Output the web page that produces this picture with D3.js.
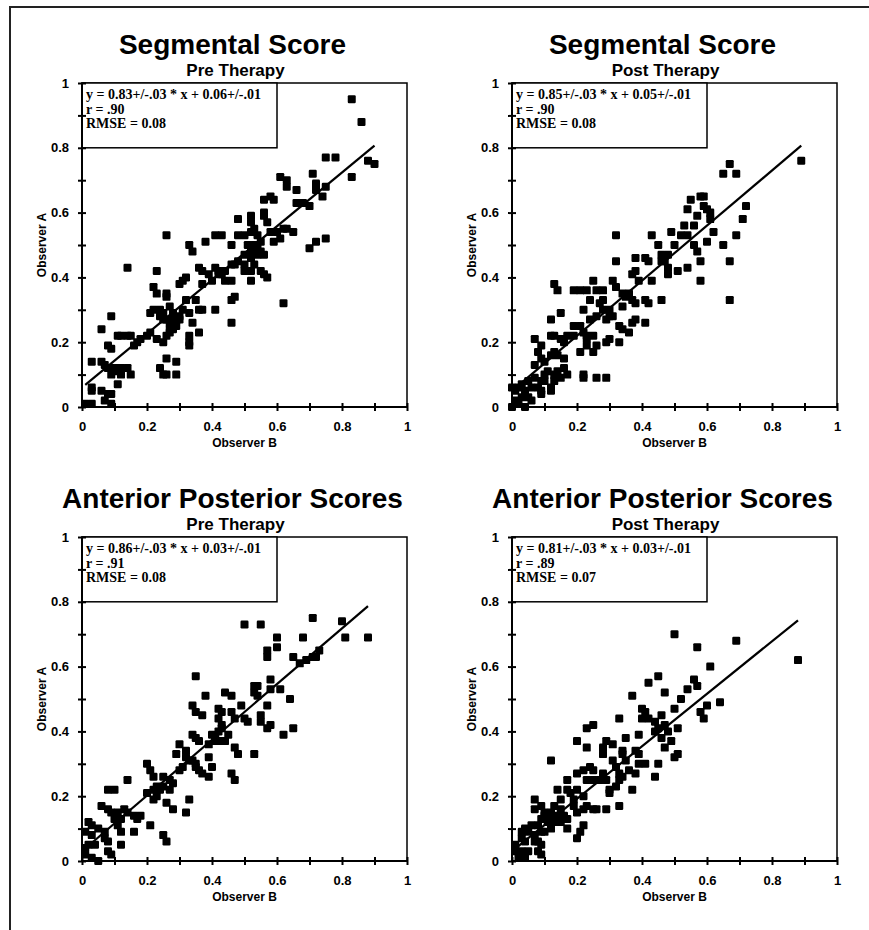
<!DOCTYPE html>
<html>
<head>
<meta charset="utf-8">
<script src="https://cdn.jsdelivr.net/npm/d3@7"></script>
<style>
body { margin: 0; background: #fff; }
svg text { font-family: "Liberation Sans", Arial, sans-serif; font-weight: bold; }
svg text.stat { font-family: "Liberation Serif", "Times New Roman", serif; }
</style>
</head>
<body>
<div id="chart"></div>
<script>
// panel titles and fit statistics
var titles = ["Segmental Score", "Segmental Score", "Anterior Posterior Scores", "Anterior Posterior Scores"];
var subtitles = ["Pre Therapy", "Post Therapy", "Pre Therapy", "Post Therapy"];
var slopes = [0.83, 0.85, 0.86, 0.81];
var intercepts = [0.06, 0.05, 0.03, 0.03];
var statLines = [
    ["y = 0.83+/-.03 * x + 0.06+/-.01", "r = .90", "RMSE = 0.08"],
    ["y = 0.85+/-.03 * x + 0.05+/-.01", "r = .90", "RMSE = 0.08"],
    ["y = 0.86+/-.03 * x + 0.03+/-.01", "r = .91", "RMSE = 0.08"],
    ["y = 0.81+/-.03 * x + 0.03+/-.01", "r = .89", "RMSE = 0.07"]
];
var tickValues = [0, 0.1, 0.2, 0.3, 0.4, 0.5, 0.6, 0.7, 0.8, 0.9, 1];
var tickLabels = {0: "0", 0.2: "0.2", 0.4: "0.4", 0.6: "0.6", 0.8: "0.8", 1: "1"};

// [observer B, observer A] pairs
var segmentalPre = [
    [0.83,0.95],[0.86,0.88],[0.75,0.77],[0.78,0.77],[0.88,0.76],[0.90,0.75],[0.83,0.71],
    [0.61,0.71],[0.63,0.70],[0.63,0.68],[0.66,0.67],[0.71,0.72],[0.72,0.69],[0.75,0.68],[0.74,0.65],[0.72,0.67],
    [0.66,0.63],[0.68,0.63],[0.70,0.62],[0.56,0.64],[0.58,0.65],[0.59,0.64],
    [0.56,0.60],[0.56,0.59],[0.57,0.57],[0.52,0.59],[0.52,0.57],[0.53,0.55],[0.48,0.58],
    [0.41,0.53],[0.43,0.53],[0.48,0.53],[0.50,0.53],[0.52,0.54],[0.54,0.53],
    [0.58,0.54],[0.60,0.54],[0.62,0.55],[0.63,0.55],[0.65,0.54],[0.59,0.51],[0.61,0.52],
    [0.26,0.53],[0.38,0.51],[0.33,0.50],[0.34,0.48],[0.46,0.50],
    [0.51,0.50],[0.53,0.50],[0.54,0.49],[0.55,0.48],[0.52,0.48],[0.54,0.47],[0.50,0.47],[0.52,0.46],[0.55,0.51],[0.56,0.47],
    [0.50,0.44],[0.50,0.42],[0.53,0.44],[0.52,0.42],[0.55,0.42],[0.56,0.41],[0.57,0.40],[0.52,0.39],
    [0.70,0.49],[0.72,0.51],[0.75,0.52],
    [0.41,0.43],[0.42,0.42],[0.43,0.41],[0.44,0.42],[0.46,0.44],[0.47,0.44],[0.48,0.45],
    [0.36,0.43],[0.37,0.42],[0.39,0.41],[0.40,0.39],[0.30,0.38],[0.31,0.39],[0.32,0.40],[0.37,0.38],
    [0.42,0.41],[0.44,0.39],[0.46,0.39],[0.22,0.37],[0.23,0.35],[0.26,0.35],[0.26,0.34],
    [0.14,0.43],[0.23,0.42],[0.35,0.33],[0.36,0.30],[0.37,0.30],[0.41,0.30],[0.46,0.33],[0.47,0.34],
    [0.62,0.32],[0.46,0.26],
    [0.21,0.29],[0.22,0.30],[0.24,0.30],[0.25,0.29],[0.27,0.31],[0.28,0.29],[0.30,0.28],[0.28,0.27],[0.26,0.27],[0.29,0.25],[0.30,0.27],[0.32,0.33],[0.31,0.30],[0.33,0.29],
    [0.24,0.28],[0.25,0.27],[0.27,0.26],[0.28,0.24],[0.34,0.26],
    [0.23,0.21],[0.25,0.20],[0.26,0.22],[0.27,0.23],[0.27,0.24],[0.33,0.22],[0.33,0.20],[0.33,0.19],[0.36,0.23],
    [0.16,0.19],[0.17,0.20],[0.18,0.21],[0.20,0.22],[0.21,0.23],
    [0.11,0.22],[0.12,0.22],[0.14,0.22],[0.15,0.22],[0.09,0.28],[0.06,0.24],[0.08,0.19],[0.09,0.18],
    [0.03,0.14],[0.06,0.14],[0.07,0.13],[0.08,0.12],[0.09,0.12],[0.11,0.12],[0.12,0.12],[0.14,0.12],[0.15,0.10],
    [0.09,0.10],[0.10,0.11],[0.12,0.10],
    [0.03,0.06],[0.03,0.05],[0.06,0.05],[0.08,0.04],[0.09,0.04],[0.11,0.07],
    [0.01,0.01],[0.03,0.01],[0.07,0.02],[0.09,0.01],
    [0.24,0.12],[0.25,0.10],[0.26,0.10],[0.29,0.14],[0.29,0.10],[0.26,0.15]
];
var segmentalPost = [
    [0.89,0.76],[0.67,0.75],[0.65,0.72],[0.69,0.72],[0.72,0.62],[0.71,0.58],[0.69,0.53],[0.67,0.45],[0.65,0.50],[0.67,0.33],
    [0.58,0.65],[0.59,0.65],[0.59,0.62],[0.60,0.61],[0.61,0.60],[0.61,0.58],[0.55,0.64],[0.54,0.61],[0.57,0.59],
    [0.53,0.56],[0.56,0.56],[0.52,0.53],[0.54,0.53],[0.56,0.50],[0.57,0.48],[0.58,0.45],[0.58,0.39],[0.60,0.51],[0.62,0.54],
    [0.49,0.54],[0.50,0.50],[0.48,0.47],[0.51,0.42],[0.54,0.43],
    [0.43,0.53],[0.45,0.50],[0.46,0.47],[0.47,0.45],[0.46,0.45],[0.48,0.43],[0.48,0.41],
    [0.41,0.46],[0.42,0.45],[0.43,0.39],[0.46,0.33],[0.42,0.32],[0.41,0.33],
    [0.32,0.53],[0.32,0.45],[0.38,0.46],[0.38,0.42],[0.37,0.41],[0.39,0.39],
    [0.31,0.39],[0.32,0.37],[0.34,0.35],[0.35,0.34],[0.36,0.35],[0.34,0.31],[0.37,0.33],[0.38,0.32],
    [0.13,0.38],[0.14,0.36],[0.19,0.36],[0.21,0.36],[0.23,0.36],[0.25,0.39],[0.26,0.36],[0.28,0.36],
    [0.24,0.33],[0.27,0.32],[0.28,0.33],[0.22,0.30],
    [0.28,0.30],[0.30,0.28],[0.30,0.30],[0.26,0.28],[0.24,0.27],[0.29,0.27],[0.31,0.28],
    [0.12,0.27],[0.15,0.29],
    [0.33,0.25],[0.34,0.24],[0.36,0.23],[0.33,0.20],[0.37,0.26],[0.38,0.27],[0.41,0.26],
    [0.19,0.25],[0.21,0.25],[0.22,0.23],[0.23,0.22],[0.23,0.21],[0.25,0.22],[0.26,0.19],[0.25,0.17],[0.29,0.20],[0.30,0.21],[0.23,0.19],[0.21,0.17],
    [0.12,0.22],[0.13,0.22],[0.15,0.21],[0.16,0.20],[0.17,0.22],[0.19,0.22],
    [0.22,0.10],[0.22,0.09],[0.26,0.09],[0.29,0.09],
    [0.07,0.21],[0.09,0.19],[0.08,0.17],[0.09,0.15],[0.07,0.13],[0.10,0.14],[0.12,0.16],[0.13,0.17],[0.14,0.16],[0.16,0.15],[0.16,0.12],
    [0.11,0.11],[0.13,0.10],[0.14,0.11],[0.15,0.09],[0.10,0.10],[0.09,0.08],[0.07,0.09],[0.05,0.08],[0.03,0.07],[0.02,0.06],
    [0.01,0.05],[0.04,0.05],[0.06,0.06],[0.08,0.06],[0.10,0.08],[0.12,0.06],[0.12,0.05],[0.09,0.04],[0.05,0.03],[0.03,0.03],
    [0.01,0.02],[0.02,0.01],[0.06,0.02],[0.09,0.05],[0.13,0.08],[0.17,0.10],[0.00,0.06],[0.00,0.00],[0.04,0.00]
];
var apPre = [
    [0.50,0.73],[0.55,0.73],[0.71,0.75],[0.80,0.74],[0.81,0.69],[0.88,0.69],
    [0.60,0.69],[0.60,0.66],[0.57,0.65],[0.57,0.63],[0.68,0.69],
    [0.65,0.63],[0.67,0.61],[0.69,0.62],[0.71,0.63],[0.72,0.63],[0.73,0.65],
    [0.35,0.57],[0.58,0.56],
    [0.53,0.54],[0.54,0.54],[0.53,0.52],[0.54,0.51],[0.57,0.48],[0.58,0.53],[0.61,0.53],[0.64,0.50],
    [0.38,0.51],[0.44,0.52],[0.46,0.51],[0.49,0.48],[0.46,0.46],[0.47,0.44],
    [0.34,0.48],[0.35,0.46],[0.37,0.45],[0.42,0.47],[0.43,0.46],[0.42,0.44],[0.43,0.42],
    [0.50,0.44],[0.51,0.43],[0.55,0.45],[0.55,0.43],[0.58,0.42],[0.57,0.41],[0.62,0.39],[0.65,0.41],
    [0.40,0.39],[0.41,0.38],[0.43,0.37],[0.44,0.37],[0.45,0.39],[0.43,0.41],[0.41,0.37],[0.42,0.40],
    [0.34,0.39],[0.35,0.38],[0.36,0.37],[0.39,0.36],
    [0.30,0.36],[0.29,0.33],[0.32,0.34],[0.32,0.32],[0.33,0.31],[0.34,0.31],[0.35,0.30],
    [0.47,0.35],[0.48,0.33],[0.53,0.33],
    [0.39,0.32],[0.40,0.29],[0.39,0.26],[0.46,0.27],[0.47,0.25],
    [0.35,0.29],[0.36,0.28],[0.37,0.27],[0.30,0.28],[0.31,0.29],
    [0.20,0.30],[0.21,0.28],[0.22,0.26],[0.25,0.26],[0.27,0.25],[0.28,0.24],[0.23,0.23],[0.22,0.22],[0.24,0.22],[0.20,0.21],[0.22,0.19],[0.23,0.20],[0.25,0.23],[0.27,0.22],
    [0.14,0.25],[0.08,0.22],[0.10,0.22],
    [0.26,0.18],[0.28,0.16],[0.32,0.15],[0.33,0.19],
    [0.06,0.17],[0.08,0.16],[0.09,0.15],[0.11,0.15],[0.13,0.16],[0.14,0.15],[0.16,0.14],[0.17,0.13],[0.18,0.14],[0.10,0.13],[0.12,0.13],
    [0.16,0.09],[0.21,0.11],[0.25,0.08],[0.26,0.06],[0.12,0.05],[0.11,0.11],[0.12,0.09],
    [0.02,0.12],[0.03,0.11],[0.01,0.09],[0.03,0.08],[0.05,0.10],[0.07,0.09],[0.07,0.07],[0.08,0.06],[0.04,0.05],[0.02,0.05],
    [0.01,0.04],[0.01,0.02],[0.03,0.01],[0.05,0.00],[0.09,0.02],[0.08,0.03]
];
var apPost = [
    [0.50,0.70],[0.57,0.66],[0.69,0.68],[0.88,0.62],[0.61,0.60],
    [0.42,0.55],[0.45,0.57],[0.56,0.56],[0.57,0.54],[0.54,0.53],
    [0.47,0.52],[0.52,0.50],[0.50,0.47],[0.37,0.51],
    [0.60,0.48],[0.64,0.49],[0.58,0.46],[0.59,0.44],
    [0.40,0.47],[0.41,0.46],[0.40,0.44],[0.42,0.44],[0.33,0.44],
    [0.46,0.45],[0.44,0.43],[0.47,0.42],[0.45,0.41],[0.44,0.40],[0.46,0.38],[0.48,0.40],[0.49,0.37],[0.47,0.35],[0.50,0.32],[0.51,0.33],[0.51,0.41],
    [0.23,0.41],[0.25,0.42],[0.20,0.37],[0.23,0.35],
    [0.29,0.37],[0.28,0.35],[0.28,0.33],[0.31,0.36],[0.35,0.38],[0.39,0.39],
    [0.34,0.34],[0.34,0.33],[0.35,0.31],[0.31,0.31],[0.32,0.29],[0.33,0.27],[0.34,0.26],[0.33,0.25],
    [0.38,0.34],[0.39,0.33],[0.39,0.30],[0.38,0.27],[0.41,0.30],[0.36,0.28],[0.45,0.30],[0.44,0.26],
    [0.12,0.31],
    [0.20,0.27],[0.22,0.28],[0.24,0.29],[0.25,0.28],[0.23,0.25],[0.25,0.25],[0.27,0.25],[0.28,0.27],[0.29,0.25],[0.30,0.22],[0.32,0.23],[0.30,0.21],
    [0.17,0.25],[0.17,0.22],[0.18,0.21],[0.19,0.19],[0.20,0.22],[0.22,0.20],[0.23,0.17],[0.22,0.16],[0.19,0.17],[0.20,0.15],[0.25,0.16],[0.26,0.16],
    [0.37,0.22],[0.33,0.17],[0.29,0.16],
    [0.14,0.22],[0.15,0.19],[0.13,0.17],[0.15,0.16],[0.12,0.15],[0.14,0.14],[0.16,0.14],[0.17,0.13],[0.12,0.13],[0.10,0.14],
    [0.11,0.12],[0.13,0.12],[0.15,0.12],[0.10,0.15],[0.09,0.17],[0.07,0.19],[0.07,0.16],[0.09,0.13],[0.08,0.11],[0.06,0.11],
    [0.04,0.10],[0.03,0.09],[0.05,0.09],[0.07,0.08],[0.09,0.09],[0.10,0.09],[0.12,0.10],[0.03,0.07],[0.04,0.06],[0.07,0.06],
    [0.08,0.06],[0.09,0.05],[0.01,0.05],[0.01,0.03],[0.03,0.03],[0.05,0.03],[0.08,0.03],[0.09,0.02],[0.02,0.01],[0.04,0.01],
    [0.17,0.10],[0.20,0.07],[0.21,0.09],[0.22,0.11]
];
var panelData = [segmentalPre, segmentalPost, apPre, apPost];

// layout
var svgWidth = 869;
var svgHeight = 930;
var plotW = 325;
var plotH = 324;
var origins = [[82, 83], [512, 83], [82, 537], [512, 537]];
var markSize = 8;

var svg = d3.select("#chart").append("svg")
    .attr("width", svgWidth)
    .attr("height", svgHeight);

// outer frame (top and left only, the scan is cropped)
svg.append("path")
    .attr("d", "M10,930 L10,7 L869,7")
    .attr("fill", "none")
    .attr("stroke", "#222")
    .attr("stroke-width", 2);

var x = d3.scaleLinear().domain([0, 1]).range([0, plotW]);
var y = d3.scaleLinear().domain([0, 1]).range([plotH, 0]);

panelData.forEach(function(points, i) {
    var g = svg.append("g")
        .attr("transform", `translate(${origins[i][0]}, ${origins[i][1]})`);

    // titles
    g.append("text")
        .attr("x", plotW / 2 - 12)
        .attr("y", -29)
        .attr("text-anchor", "middle")
        .attr("font-size", "28px")
        .text(titles[i]);
    g.append("text")
        .attr("x", plotW / 2 - 9)
        .attr("y", -7)
        .attr("text-anchor", "middle")
        .attr("font-size", "17px")
        .text(subtitles[i]);

    // plot frame
    g.append("rect")
        .attr("width", plotW)
        .attr("height", plotH)
        .attr("fill", "none")
        .attr("stroke", "#000")
        .attr("stroke-width", 1.5);

    // fit line
    var ext = d3.extent(points, d => d[0]);
    g.append("line")
        .attr("x1", x(ext[0]))
        .attr("y1", y(slopes[i] * ext[0] + intercepts[i]))
        .attr("x2", x(ext[1]))
        .attr("y2", y(slopes[i] * ext[1] + intercepts[i]))
        .attr("stroke", "#000")
        .attr("stroke-width", 2.2);

    // points
    g.selectAll(".pt")
        .data(points)
        .enter()
        .append("rect")
        .classed("pt", true)
        .attr("x", d => x(d[0]) - markSize / 2)
        .attr("y", d => y(d[1]) - markSize / 2)
        .attr("width", markSize)
        .attr("height", markSize)
        .attr("rx", 1.2)
        .attr("fill", "#000");

    // stats box
    g.append("rect")
        .attr("x", x(0))
        .attr("y", y(1))
        .attr("width", x(0.6) - x(0))
        .attr("height", y(0.8) - y(1))
        .attr("fill", "#fff")
        .attr("stroke", "#000")
        .attr("stroke-width", 1.5);
    g.selectAll(".stat")
        .data(statLines[i])
        .enter()
        .append("text")
        .classed("stat", true)
        .attr("x", 4)
        .attr("y", (d, j) => 16 + j * 14.5)
        .attr("font-size", "14px")
        .text(d => d);

    // axes
    var xAxis = g.append("g")
        .attr("transform", `translate(0, ${plotH})`)
        .call(d3.axisBottom(x).tickValues(tickValues).tickSize(4).tickPadding(11)
            .tickFormat(d => tickLabels[d] || ""));
    var yAxis = g.append("g")
        .call(d3.axisLeft(y).tickValues(tickValues).tickSize(4).tickPadding(9)
            .tickFormat(d => tickLabels[d] || ""));

    [xAxis, yAxis].forEach(function(ax) {
        ax.select(".domain").attr("stroke-width", 2).attr("stroke", "#000");
        ax.selectAll(".tick line").attr("stroke-width", 2).attr("stroke", "#000");
        ax.selectAll(".tick text")
            .attr("font-size", "13px")
            .attr("fill", "#000");
    });
    xAxis.selectAll(".tick line").attr("y1", -4).attr("y2", 4);
    yAxis.selectAll(".tick line").attr("x1", 4).attr("x2", -4);
    xAxis.select(".domain").attr("d", `M0,0H${plotW}`);
    yAxis.select(".domain").attr("d", `M0,0V${plotH}`);

    // axis titles
    g.append("text")
        .attr("x", plotW / 2)
        .attr("y", plotH + 40)
        .attr("text-anchor", "middle")
        .attr("font-size", "12px")
        .text("Observer B");
    g.append("text")
        .attr("transform", `translate(-36, ${plotH / 2}) rotate(-90)`)
        .attr("text-anchor", "middle")
        .attr("font-size", "12px")
        .text("Observer A");
});
</script>
</body>
</html>
